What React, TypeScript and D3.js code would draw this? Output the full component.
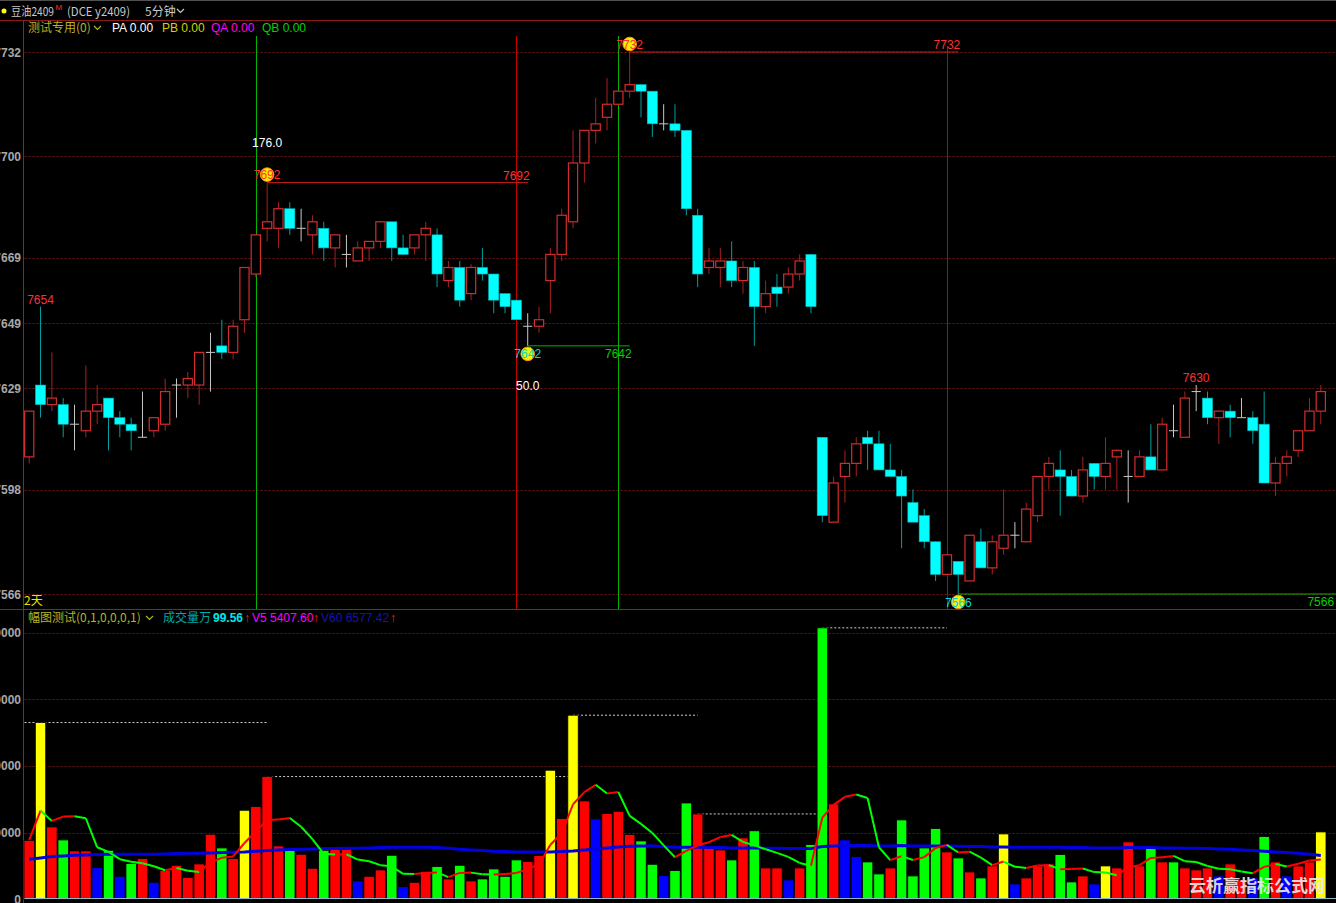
import React from 'react';
import * as d3 from 'd3';

// ---- price data (5-minute candles) ----
const opens = [7608,7630,7624,7624,7618,7616,7622,7626,7620,7618,7614,7616,7618,7630,7630,7630,7640,7642,7640,7650,
  7664,7678,7678,7684,7678,7676,7678,7672,7670,7668,7672,7674,7680,7672,7672,7676,7676,7662,7666,7658,
  7666,7664,7658,7656,7648,7648,7662,7670,7680,7698,7708,7712,7716,7720,7722,7720,7710,7710,7708,7682,
  7666,7666,7668,7662,7666,7654,7660,7660,7664,7670,7614,7588,7602,7606,7614,7612,7604,7602,7594,7590,
  7582,7572,7576,7570,7582,7574,7580,7584,7582,7590,7602,7604,7602,7596,7606,7602,7608,7602,7602,7608,
  7604,7616,7614,7628,7626,7620,7622,7620,7620,7618,7600,7606,7610,7616,7622];
const highs = [7622,7654,7640,7626,7624,7636,7630,7626,7622,7620,7628,7620,7632,7632,7634,7640,7646,7650,7650,7666,
  7676,7692,7686,7686,7684,7682,7680,7676,7676,7674,7674,7680,7680,7676,7676,7680,7678,7668,7668,7667,
  7672,7664,7658,7656,7652,7654,7672,7684,7708,7708,7718,7724,7720,7732,7722,7720,7716,7716,7708,7684,
  7672,7672,7674,7668,7668,7662,7664,7666,7670,7670,7614,7602,7610,7614,7616,7616,7612,7604,7598,7592,
  7582,7578,7576,7584,7586,7584,7598,7588,7594,7602,7608,7610,7604,7608,7606,7614,7610,7610,7610,7618,
  7620,7624,7628,7630,7628,7622,7624,7626,7622,7628,7608,7610,7616,7626,7630];
const lows = [7606,7620,7622,7614,7610,7614,7618,7610,7614,7610,7614,7614,7616,7620,7626,7624,7628,7638,7638,7646,
  7663,7674,7672,7676,7674,7670,7668,7666,7666,7668,7668,7672,7668,7670,7670,7668,7660,7660,7654,7656,
  7662,7652,7652,7650,7642,7646,7652,7668,7678,7692,7704,7708,7716,7718,7712,7706,7708,7706,7682,7660,
  7664,7660,7660,7658,7642,7652,7654,7658,7662,7652,7588,7588,7594,7602,7604,7604,7602,7580,7588,7580,
  7570,7572,7566,7570,7574,7572,7578,7580,7582,7588,7598,7590,7596,7594,7598,7598,7598,7594,7602,7604,
  7604,7614,7614,7622,7618,7612,7614,7620,7612,7600,7596,7602,7608,7616,7618];
const closes = [7622,7624,7626,7618,7618,7622,7624,7620,7618,7616,7614,7620,7628,7630,7632,7640,7640,7640,7648,7666,
  7676,7680,7684,7678,7678,7680,7672,7676,7670,7672,7674,7680,7672,7670,7676,7678,7664,7666,7656,7666,
  7664,7656,7654,7650,7648,7650,7670,7682,7698,7708,7710,7716,7720,7722,7720,7710,7710,7708,7684,7664,
  7668,7668,7662,7666,7654,7658,7658,7664,7668,7654,7590,7600,7606,7612,7612,7604,7602,7596,7588,7582,
  7572,7578,7572,7584,7574,7582,7584,7584,7592,7602,7606,7602,7596,7604,7602,7606,7610,7602,7608,7604,
  7618,7616,7626,7628,7620,7622,7620,7620,7616,7600,7606,7608,7616,7622,7628];

// ---- volume data ----
const volumes = [8800,26500,10850,8900,7250,7250,4750,7350,3450,5350,
  6100,2550,4350,5100,3250,5300,9750,7700,6100,13350,
  13900,18400,8000,7350,6750,4650,7350,7500,7500,2750,
  3450,4400,6600,1900,2550,4200,4900,3050,5100,2750,
  3050,4550,3450,5900,5650,6550,19350,12100,27600,14750,
  12050,12850,13200,9700,8750,5250,3550,4300,14440,12800,
  7700,7400,5900,9200,10270,4700,4700,2900,4700,8200,
  40700,14300,8900,6400,5600,3800,4700,11900,3500,7700,
  10600,7100,6200,4100,3200,5000,9800,2300,3200,5000,
  5300,6700,2600,3500,2300,5000,4700,8600,5000,7700,
  5600,5600,4700,4400,4700,3500,5300,2900,3200,9400,
  5600,3500,5000,5600,10100];
const volColors = ('RYRGRRBGBG' + 'RBRRRRRGRY' + 'RRRGRRGRRB' + 'RRGBRRGRGR' + 'GGGGRRYRYR' +
  'BRRRGGBGGR' + 'RRGRGRRBRG' + 'GRBBGGRGGG' + 'GRGRGRYBRR' + 'RGGRBYRRRG' + 'RGRRRBRRBG' + 'RBRRY').split('');
const priorVolumes = [4500, 18600, 5650, 6950];
const v60Values = [6000,6200,6400,6500,6600,6650,6700,6750,6750,6750,
  6750,6750,6800,6850,6900,6900,6950,7000,7050,7100,
  7200,7300,7400,7450,7500,7550,7600,7600,7650,7650,
  7700,7750,7800,7800,7800,7800,7750,7650,7500,7400,
  7300,7200,7150,7100,7100,7100,7100,7150,7250,7400,
  7550,7700,7850,7950,8000,8000,7900,7800,7800,7800,
  7750,7750,7700,7700,7700,7650,7650,7600,7600,7600,
  7900,8000,8050,8050,8050,8000,8000,8050,8000,8000,
  8000,8000,7950,7900,7900,7850,7850,7800,7800,7800,
  7800,7800,7750,7750,7700,7700,7700,7750,7750,7750,
  7700,7700,7650,7650,7600,7550,7500,7400,7300,7200,
  7100,7000,6900,6750,6577];

// ---- axes ----
const priceTicks = [7566, 7598, 7629, 7649, 7669, 7700, 7732];
const volTicks = [0, 10000, 20000, 30000, 40000];

// ---- annotations ----
const pivotIdx = [21, 44, 53, 82];
const pivotKind = ['H', 'L', 'H', 'L'];
const zigFrom = [1, 21, 48, 59, 70];
const zigTo = [21, 48, 59, 70, 81];
const markIdx = [1, 103];
const rangeIdx = [21, 44];
const rangeText = ['176.0', '50.0'];

const FONT = "'Liberation Sans', Arial, sans-serif";
const CJK = "'Noto Sans CJK SC', 'Liberation Sans', sans-serif";

const W = 1336, H = 903;
const LEFT = 23.5;

export default function App() {
  const n = closes.length;
  const cx = d3.scaleLinear().domain([0, n - 1]).range([29.2, 1320.8]);
  const y = d3.scaleLinear().domain([7566, 7732]).range([594, 52]);
  const yV = d3.scaleLinear().domain([0, 40000]).range([899.3, 632.5]);
  const half = 4.6;

  const allVol = priorVolumes.concat(volumes);
  const ma5 = volumes.map((_, i) => d3.mean(allVol.slice(i, i + 5)) as number);
  const line = d3.line<[number, number]>().x(d => d[0]).y(d => d[1]);
  const v60Path = line(v60Values.map((v, i) => [cx(i), yV(v)]));

  const volFill: Record<string, string> = { R: '#ff0000', Y: '#ffff00', G: '#00ff00', B: '#0000ff' };

  const chevron = (x: number, yy: number, c: string) => (
    <path d={`M${x},${yy} l3.5,3.5 l3.5,-3.5`} stroke={c} strokeWidth={1.2} fill="none" />
  );

  return (
    <div style={{ position: 'absolute', left: 0, top: 0, width: W, height: H, background: '#000' }}>
      <svg width={W} height={H} style={{ display: 'block', background: '#000' }}>
        {/* frame */}
        <line x1={0} x2={W} y1={0.5} y2={0.5} stroke="#505050" />
        <line x1={0} x2={W} y1={20.5} y2={20.5} stroke="#8c1a1a" />
        <line x1={0} x2={W} y1={609.5} y2={609.5} stroke="#a01c1c" />
        <line x1={LEFT} x2={LEFT} y1={20} y2={H} stroke="#a01c1c" />

        {/* header */}
        <circle cx={4} cy={11} r={2.5} fill="#ffff00" />
        <text x={11} y={16} fontFamily={CJK} fontSize={12} fill="#c8c8c8" textLength={43} lengthAdjust="spacingAndGlyphs">豆油2409</text>
        <text x={55.5} y={10} fontFamily={FONT} fontSize={8} fill="#ff3030">M</text>
        <text x={67} y={16} fontFamily={CJK} fontSize={12} fill="#c8c8c8" textLength={63} lengthAdjust="spacingAndGlyphs">(DCE  y2409)</text>
        <text x={145} y={16} fontFamily={CJK} fontSize={12} fill="#c8c8c8">5分钟</text>
        {chevron(177, 9, '#c8c8c8')}

        {/* price grid */}
        {priceTicks.map(t => (
          <g key={'pt' + t}>
            <line x1={LEFT + 1} x2={W} y1={Math.round(y(t)) + 0.5} y2={Math.round(y(t)) + 0.5}
              stroke="#7a1414" strokeDasharray="2 2" />
            <text x={21} y={y(t) + 4.5} textAnchor="end" fontFamily={FONT} fontSize={12} fontWeight="bold" fill="#a8a8a8">{t}</text>
          </g>
        ))}

        {/* legend main */}
        <text x={28} y={32} fontFamily={CJK} fontSize={12} fill="#b4b428">测试专用(0)</text>
        {chevron(94, 26, '#b4b428')}
        <text x={112} y={32} fontFamily={FONT} fontSize={12} fill="#ffffff">PA 0.00</text>
        <text x={162} y={32} fontFamily={FONT} fontSize={12} fill="#d2d200">PB 0.00</text>
        <text x={211} y={32} fontFamily={FONT} fontSize={12} fill="#ff00ff">QA 0.00</text>
        <text x={262} y={32} fontFamily={FONT} fontSize={12} fill="#00d200">QB 0.00</text>

        {/* pivot vertical lines */}
        {pivotIdx.map((p, k) => (
          <line key={'vl' + k} x1={Math.round(cx(p - 1)) + 0.5} x2={Math.round(cx(p - 1)) + 0.5}
            y1={k === 3 ? 46 : 36} y2={609}
            stroke={pivotKind[k] === 'H' ? '#00b400' : (k === 3 ? '#8c1a1a' : '#c80000')} />
        ))}

        {/* candles */}
        {closes.map((c, i) => {
          const o = opens[i], h = highs[i], l = lows[i];
          const x = cx(i);
          if (c === o) {
            return (
              <g key={'c' + i} stroke="#c8c8c8">
                <line x1={x} x2={x} y1={y(h)} y2={y(l)} />
                <line x1={x - half} x2={x + half} y1={y(c)} y2={y(c)} />
              </g>
            );
          }
          if (c > o) {
            return (
              <g key={'c' + i}>
                <line x1={x} x2={x} y1={y(h)} y2={y(c)} stroke="#a82020" />
                <line x1={x} x2={x} y1={y(o)} y2={y(l)} stroke="#a82020" />
                <rect x={x - half} y={y(c)} width={half * 2} height={Math.max(1, y(o) - y(c))}
                  fill="#000" stroke="#d22d2d" strokeWidth={1.2} />
              </g>
            );
          }
          return (
            <g key={'c' + i}>
              <line x1={x} x2={x} y1={y(h)} y2={y(l)} stroke="#00a0a0" />
              <rect x={x - half - 0.5} y={y(o)} width={half * 2 + 1} height={Math.max(1, y(c) - y(o))}
                fill="#00ffff" stroke="#00b4b4" strokeWidth={0.6} />
            </g>
          );
        })}

        {/* pivot horizontal lines and labels */}
        {pivotIdx.map((p, k) => {
          const isH = pivotKind[k] === 'H';
          const v = isH ? highs[p] : lows[p];
          const yy = y(v);
          const endX = k < pivotIdx.length - 1 ? cx(pivotIdx[k + 1]) : W;
          const labX = k < pivotIdx.length - 1 ? cx(pivotIdx[k + 1] - 1) : cx(n - 1);
          const col = isH ? '#c81e1e' : '#00b400';
          return (
            <g key={'pv' + k}>
              <line x1={cx(p)} x2={endX} y1={yy} y2={yy} stroke={col} />
              <text x={labX} y={isH ? yy - 3 : yy + 12} textAnchor="middle" fontFamily={FONT} fontSize={12}
                fill={isH ? '#ff3030' : '#00d200'}>{v}</text>
              <circle cx={cx(p)} cy={isH ? yy - 8 : yy + 8} r={6.8} fill="#f5f000" stroke="#ff9000" strokeWidth={1} />
              <text x={cx(p)} y={(isH ? yy - 8 : yy + 8) + 4.5} textAnchor="middle" fontFamily={FONT} fontSize={12}
                fill={isH ? '#ff3030' : '#00d8d8'}>{v}</text>
            </g>
          );
        })}
        {rangeIdx.map((p, k) => (
          <text key={'rt' + k} x={cx(p)} y={k === 0 ? y(highs[p]) - 36 : y(lows[p]) + 44} textAnchor="middle"
            fontFamily={FONT} fontSize={12} fill="#ffffff">{rangeText[k]}</text>
        ))}
        {markIdx.map(p => (
          <text key={'mk' + p} x={cx(p)} y={y(highs[p]) - 3} textAnchor="middle" fontFamily={FONT} fontSize={12}
            fill="#ff3030">{highs[p]}</text>
        ))}
        <text x={24} y={605} fontFamily={CJK} fontSize={12} fill="#e6e600">2天</text>

        {/* volume grid */}
        {volTicks.map(t => (
          <g key={'vt' + t}>
            {t > 0 && <line x1={LEFT + 1} x2={W} y1={Math.round(yV(t)) + 0.5} y2={Math.round(yV(t)) + 0.5}
              stroke="#7a1414" strokeDasharray="2 2" />}
            <text x={21} y={yV(t) + 4.5} textAnchor="end" fontFamily={FONT} fontSize={12} fontWeight="bold" fill="#a8a8a8">{t}</text>
          </g>
        ))}

        {/* legend volume */}
        <text x={28} y={622} fontFamily={CJK} fontSize={12} fill="#b4b428">幅图测试(0,1,0,0,0,1)</text>
        {chevron(146, 616, '#b4b428')}
        <text x={163} y={622} fontFamily={CJK} fontSize={12} fill="#00a8a8">成交量万</text>
        <text x={213} y={622} fontFamily={FONT} fontSize={12} fontWeight="bold" fill="#00e6e6">99.56</text>
        <text x={244} y={622} fontFamily={FONT} fontSize={12} fill="#ff2020">↑</text>
        <text x={252} y={622} fontFamily={FONT} fontSize={12} fill="#ff00ff">V5 5407.60</text>
        <text x={313} y={622} fontFamily={FONT} fontSize={12} fill="#ff2020">↑</text>
        <text x={321} y={622} fontFamily={FONT} fontSize={12} fill="#1414b4">V60 6577.42</text>
        <text x={390} y={622} fontFamily={FONT} fontSize={12} fill="#ff2020">↑</text>

        {/* zig reference lines */}
        {zigFrom.map((f, k) => (
          <line key={'zg' + k} x1={k === 0 ? LEFT + 1 : cx(f)} x2={cx(zigTo[k])} y1={yV(volumes[f])} y2={yV(volumes[f])}
            stroke="#d0d0d0" strokeDasharray="2 2" />
        ))}

        {/* volume bars */}
        {volumes.map((v, i) => (
          <rect key={'v' + i} x={cx(i) - 5.2} y={yV(v)} width={10.4} height={yV(0) - yV(v)}
            fill={volFill[volColors[i]]} stroke="#000" strokeWidth={0.8} />
        ))}
        <line x1={LEFT + 1} x2={W} y1={898.5} y2={898.5} stroke="#8fb4c8" strokeWidth={1.2} />

        {/* V60 */}
        <path d={v60Path || ''} fill="none" stroke="#0000e0" strokeWidth={3} />
        {/* MA5 colored by direction */}
        {ma5.map((m, i) => i === 0 ? null : (
          <line key={'m' + i} x1={cx(i - 1)} x2={cx(i)} y1={yV(ma5[i - 1])} y2={yV(m)}
            stroke={m >= ma5[i - 1] ? '#ff0000' : '#00ff00'} strokeWidth={2} />
        ))}

        {/* watermark */}
        <text x={1189} y={892} fontFamily={CJK} fontSize={17} fontWeight="bold" fill="#ececec" opacity={0.9}>云析赢指标公式网</text>
      </svg>
    </div>
  );
}
